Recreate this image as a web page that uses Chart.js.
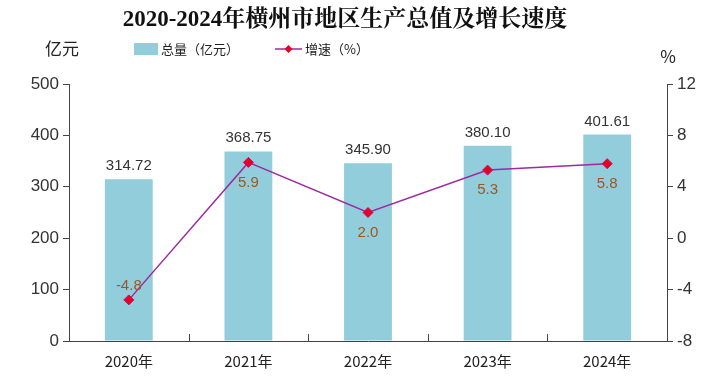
<!DOCTYPE html>
<html>
<head>
<meta charset="utf-8">
<script src="https://cdn.jsdelivr.net/npm/chart.js@4"></script>
<style>
  html, body { margin: 0; padding: 0; background: #fff; }
  #wrap { width: 717px; height: 389px; position: relative; }
</style>
</head>
<body>
<div id="wrap"><canvas id="chart"></canvas></div>
<script>
const years = ["2020年", "2021年", "2022年", "2023年", "2024年"];
const totalValues = [314.72, 368.75, 345.90, 380.10, 401.61];
const growthRates = [-4.8, 5.9, 2.0, 5.3, 5.8];
const leftTicks = [0, 100, 200, 300, 400, 500];
const rightTicks = [-8, -4, 0, 4, 8, 12];

const chartTitle = "2020-2024年横州市地区生产总值及增长速度";
const barLabel = "总量（亿元）";
const lineLabel = "增速（%）";
const leftUnit = "亿元";
const rightUnit = "%";

const BAR_COLOR = "#92CDDC";
const LINE_COLOR = "#9B2BA0";
const AXIS_COLOR = "#444";
const SANS = "'Liberation Sans', Arial, 'Noto Sans CJK SC', sans-serif";

// title, legend, units, value labels and the little upward ticks on the x axis
const decorations = {
  id: "decorations",
  afterDraw(chart) {
    const ctx = chart.ctx;
    const area = chart.chartArea;
    const x = chart.scales.x;
    ctx.save();

    ctx.fillStyle = "#111";
    ctx.textAlign = "center";
    ctx.textBaseline = "middle";
    ctx.font = "bold 23px 'Liberation Serif', 'Noto Serif CJK SC', 'Noto Sans CJK SC', serif";
    ctx.fillText(chartTitle, 345, 20);

    ctx.font = "17px 'Noto Sans CJK SC', sans-serif";
    ctx.fillStyle = "#222";
    ctx.fillText(leftUnit, 62, 49);
    ctx.fillText(rightUnit, 668, 57);

    // legend
    ctx.fillStyle = BAR_COLOR;
    ctx.fillRect(134, 43, 24, 12);
    ctx.fillStyle = "#222";
    ctx.textAlign = "left";
    ctx.font = "13px 'Noto Sans CJK SC', sans-serif";
    ctx.fillText(barLabel, 161, 49);
    ctx.strokeStyle = LINE_COLOR;
    ctx.lineWidth = 1.5;
    ctx.beginPath();
    ctx.moveTo(275, 49);
    ctx.lineTo(302, 49);
    ctx.stroke();
    ctx.fillStyle = "#E8001C";
    ctx.beginPath();
    ctx.moveTo(288.5, 45);
    ctx.lineTo(292.5, 49);
    ctx.lineTo(288.5, 53);
    ctx.lineTo(284.5, 49);
    ctx.closePath();
    ctx.fill();
    ctx.fillStyle = "#222";
    ctx.fillText(lineLabel, 305, 49);

    // upward ticks between categories
    ctx.strokeStyle = AXIS_COLOR;
    ctx.lineWidth = 1;
    for (let i = 1; i < years.length; i++) {
      const px = Math.round((x.getPixelForTick(i - 1) + x.getPixelForTick(i)) / 2) + 0.5;
      ctx.beginPath();
      ctx.moveTo(px, area.bottom);
      ctx.lineTo(px, area.bottom - 7);
      ctx.stroke();
    }

    // bar value labels
    ctx.textAlign = "center";
    ctx.textBaseline = "alphabetic";
    ctx.font = "15px " + SANS;
    ctx.fillStyle = "#333";
    chart.getDatasetMeta(1).data.forEach((bar, i) => {
      ctx.fillText(totalValues[i].toFixed(2), bar.x, bar.y - 9);
    });

    // growth labels
    ctx.textBaseline = "middle";
    ctx.fillStyle = "#A0561E";
    chart.getDatasetMeta(0).data.forEach((pt, i) => {
      const v = growthRates[i];
      const dy = v < 0 ? -14 : 20;
      ctx.fillText(v.toFixed(1), pt.x, pt.y + dy);
    });

    ctx.restore();
  }
};

new Chart(document.getElementById("chart"), {
  data: {
    labels: years,
    datasets: [
      {
        type: "line",
        label: lineLabel,
        data: growthRates,
        yAxisID: "y1",
        borderColor: LINE_COLOR,
        borderWidth: 1.5,
        pointStyle: "rectRot",
        pointRadius: 5,
        pointBackgroundColor: "#E8001C",
        pointBorderColor: "#C0107A",
        pointBorderWidth: 1,
        tension: 0,
        order: 0
      },
      {
        type: "bar",
        label: barLabel,
        data: totalValues,
        yAxisID: "y",
        backgroundColor: BAR_COLOR,
        categoryPercentage: 1,
        barPercentage: 0.4,
        order: 1
      }
    ]
  },
  options: {
    responsive: true,
    maintainAspectRatio: false,
    animation: false,
    layout: { padding: { top: 84, left: 0, right: 0, bottom: 0 } },
    plugins: {
      legend: { display: false },
      title: { display: false },
      tooltip: { enabled: false }
    },
    scales: {
      x: {
        offset: true,
        grid: { display: false, drawTicks: false },
        border: { color: AXIS_COLOR, width: 1 },
        ticks: { color: "#222", padding: 11, font: { size: 15, family: "'Liberation Sans Narrow', 'Noto Sans CJK SC', sans-serif" } },
        afterFit: (axis) => { axis.height = 48; }
      },
      y: {
        position: "left",
        min: 0,
        max: 500,
        afterBuildTicks: (axis) => { axis.ticks = leftTicks.map(v => ({ value: v })); },
        grid: { drawOnChartArea: false, drawTicks: true, tickLength: 6, color: AXIS_COLOR },
        border: { color: AXIS_COLOR, width: 1 },
        ticks: { color: "#333", padding: 4, font: { size: 17, family: SANS } },
        afterFit: (axis) => { axis.width = 69; }
      },
      y1: {
        position: "right",
        min: -8,
        max: 12,
        afterBuildTicks: (axis) => { axis.ticks = rightTicks.map(v => ({ value: v })); },
        grid: { drawOnChartArea: false, drawTicks: true, tickLength: 6, color: AXIS_COLOR },
        border: { color: AXIS_COLOR, width: 1 },
        ticks: { color: "#333", padding: 4, font: { size: 17, family: SANS } },
        afterFit: (axis) => { axis.width = 50; }
      }
    }
  },
  plugins: [decorations]
});
</script>
</body>
</html>
